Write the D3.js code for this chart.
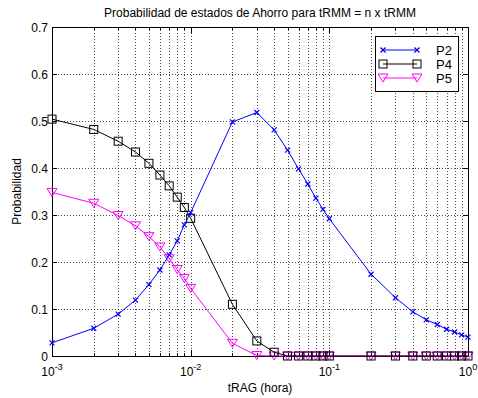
<!DOCTYPE html>
<html><head><meta charset="utf-8">
<script src="https://cdn.jsdelivr.net/npm/d3@7"></script>
<style>body{margin:0;background:#fff}text{font-family:"Liberation Sans",Arial,sans-serif}</style>
</head><body><svg id="c" width="478" height="398"></svg>
<script>
const tValues = [0.001,0.002,0.003,0.004,0.005,0.006,0.007,0.008,0.009,0.01,
  0.02,0.03,0.04,0.05,0.06,0.07,0.08,0.09,0.1,
  0.2,0.3,0.4,0.5,0.6,0.7,0.8,0.9,1.0];
const p2 = [0.028,0.059,0.089,0.119,0.152,0.183,0.215,0.245,0.279,0.305,
  0.498,0.518,0.481,0.438,0.398,0.366,0.336,0.312,0.292,
  0.174,0.124,0.094,0.077,0.067,0.057,0.051,0.045,0.040];
const p4 = [0.504,0.482,0.457,0.434,0.410,0.385,0.362,0.338,0.316,0.293,
  0.110,0.032,0.008,0,0,0,0,0,0,
  0,0,0,0,0,0,0,0,0];
const p5 = [0.348,0.325,0.299,0.277,0.254,0.232,0.207,0.184,0.165,0.144,
  0.027,0.001,0,0,0,0,0,0,0,
  0,0,0,0,0,0,0,0,0];
const seriesNames = ["P2","P4","P5"];
const yTicks = [0,0.1,0.2,0.3,0.4,0.5,0.6,0.7];
const xTickExps = [-3,-2,-1,0];
const titleText = "Probabilidad de estados de Ahorro para tRMM = n x tRMM";
const xLabel = "tRAG (hora)";
const yLabel = "Probabilidad";

const svg = d3.select("#c");
const L=52,R=468,T=27,B=356;
const x = d3.scaleLog().domain([0.001,1]).range([L,R]);
const y = d3.scaleLinear().domain([0,0.7]).range([B,T]);

const minor = [];
for (let e=-3;e<0;e++) for (let k=1;k<10;k++) minor.push(k*Math.pow(10,e));
minor.push(1);
const g = svg.append("g");
minor.forEach(v=>{ if(v>0.001 && v<1) g.append("line").attr("x1",Math.round(x(v))+0.5).attr("x2",Math.round(x(v))+0.5).attr("y1",T).attr("y2",B)
  .attr("stroke","#000").attr("stroke-width",1).attr("stroke-dasharray","1,2").attr("opacity",0.7);});
yTicks.forEach(v=>{ if(v>0 && v<0.7) g.append("line").attr("y1",Math.round(y(v))+0.5).attr("y2",Math.round(y(v))+0.5).attr("x1",L).attr("x2",R)
  .attr("stroke","#000").attr("stroke-width",1).attr("stroke-dasharray","1,2").attr("opacity",0.7);});

minor.forEach(v=>{
  const xx=Math.round(x(v))+0.5;
  const len = xTickExps.some(e=>Math.abs(Math.pow(10,e)-v)<1e-9)?6:3;
  svg.append("line").attr("x1",xx).attr("x2",xx).attr("y1",B).attr("y2",B-len).attr("stroke","#000");
  svg.append("line").attr("x1",xx).attr("x2",xx).attr("y1",T).attr("y2",T+len).attr("stroke","#000");
});
yTicks.forEach(v=>{
  const yy=Math.round(y(v))+0.5;
  svg.append("line").attr("x1",L).attr("x2",L+5).attr("y1",yy).attr("y2",yy).attr("stroke","#000");
  svg.append("line").attr("x1",R-5).attr("x2",R).attr("y1",yy).attr("y2",yy).attr("stroke","#000");
  svg.append("text").attr("x",L-4).attr("y",yy+4).attr("text-anchor","end").attr("font-size",12).text(v===0?"0":v.toFixed(1));
});
xTickExps.forEach(e=>{
  const t = svg.append("text").attr("x",x(Math.pow(10,e))).attr("y",376).attr("text-anchor","middle").attr("font-size",12);
  t.append("tspan").text("10");
  t.append("tspan").attr("dy",-6).attr("font-size",9).text(String(e));
});
svg.append("rect").attr("x",L+0.5).attr("y",T+0.5).attr("width",R-L).attr("height",B-T).attr("fill","none").attr("stroke","#000");

svg.append("text").attr("x",(L+R)/2).attr("y",17).attr("text-anchor","middle").attr("font-size",12).text(titleText);
svg.append("text").attr("x",(L+R)/2).attr("y",392).attr("text-anchor","middle").attr("font-size",12).text(xLabel);
svg.append("text").attr("transform",`translate(21,${(T+B)/2}) rotate(-90)`).attr("text-anchor","middle").attr("font-size",12).text(yLabel);

const colors = ["#0000ff","#000000","#ff00ff"];
const dataSets = [p2,p4,p5];
function marker(sel,i,cx,cy){
  if(i===0){
    sel.append("path").attr("d",`M${cx-2.5},${cy-2.5}L${cx+2.5},${cy+2.5}M${cx-2.5},${cy+2.5}L${cx+2.5},${cy-2.5}`).attr("stroke",colors[i]).attr("stroke-width",1.2).attr("fill","none");
  } else if(i===1){
    sel.append("rect").attr("x",cx-4).attr("y",cy-4).attr("width",8).attr("height",8).attr("fill","none").attr("stroke",colors[i]);
  } else {
    sel.append("path").attr("d",`M${cx-5},${cy-4}L${cx+5},${cy-4}L${cx},${cy+4}Z`).attr("fill","none").attr("stroke",colors[i]);
  }
}
const line = d3.line().x(d=>x(d[0])).y(d=>y(d[1]));
[2,1,0].forEach(i=>{
  const pts = tValues.map((t,j)=>[t,dataSets[i][j]]);
  svg.append("path").attr("d",line(pts)).attr("fill","none").attr("stroke",colors[i]).attr("stroke-width",1);
  const mg = svg.append("g");
  pts.forEach(p=>marker(mg,i,x(p[0]),y(p[1])));
});

const lg = svg.append("g");
lg.append("rect").attr("x",375.5).attr("y",36.5).attr("width",83).attr("height",55).attr("fill","#fff").attr("stroke","#000");
seriesNames.forEach((n,i)=>{
  const yy = 50+i*14;
  lg.append("line").attr("x1",383).attr("x2",417).attr("y1",yy).attr("y2",yy).attr("stroke",colors[i]);
  marker(lg,i,383,yy); marker(lg,i,417,yy);
  lg.append("text").attr("x",436).attr("y",yy+5).attr("font-size",13).text(n);
});
</script></body></html>
